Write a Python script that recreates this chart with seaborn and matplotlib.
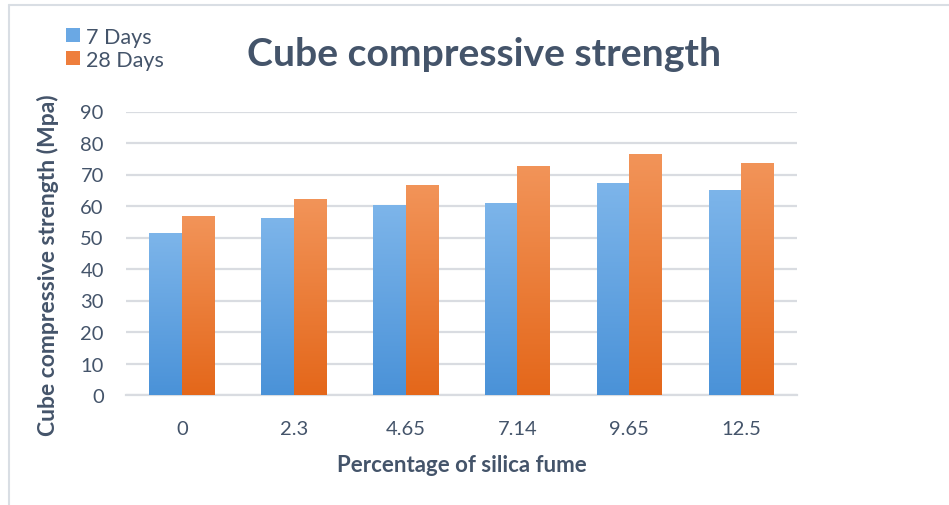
import numpy as np
import pandas as pd
import matplotlib
matplotlib.use("Agg")
import matplotlib.pyplot as plt
from matplotlib.colors import LinearSegmentedColormap
from matplotlib.patches import Patch
from matplotlib.lines import Line2D
import seaborn as sns

# Data
categories = ["0", "2.3", "4.65", "7.14", "9.65", "12.5"]
days_7 = [51.3, 56.1, 60.2, 61.0, 67.2, 65.2]
days_28 = [56.8, 62.2, 66.7, 72.7, 76.5, 73.7]
series = ["7 Days", "28 Days"]

TEXT = "#44546A"
GRID = "#D9DCE1"

sns.set_theme(style="white")
plt.rcParams["font.family"] = ["Lato", "DejaVu Sans"]

df = pd.DataFrame({
    "pct": categories * 2,
    "val": days_7 + days_28,
    "age": [series[0]] * len(categories) + [series[1]] * len(categories),
})

fig = plt.figure(figsize=(9.49, 5.06), dpi=100)
ax = fig.add_axes([126 / 949, 1 - 396 / 506, 671 / 949, (396 - 112.5) / 506])

palette = {"7 Days": "#63A3E2", "28 Days": "#EE7D3A"}
sns.barplot(data=df, x="pct", y="val", hue="age", order=categories,
            hue_order=series, palette=palette, width=0.58, gap=0,
            saturation=1, ax=ax, legend=False, zorder=3)

# Vertical gradient fill for each bar
grads = {
    "7 Days": LinearSegmentedColormap.from_list("b", ["#4A92D8", "#7DB5EA"]),
    "28 Days": LinearSegmentedColormap.from_list("o", ["#E4671A", "#F29459"]),
}
grad = np.linspace(0, 1, 256).reshape(-1, 1)
bars = [p for p in ax.patches if p.get_height() > 0]
n = len(categories)
for i, p in enumerate(bars):
    key = series[0] if i < n else series[1]
    x0, y0 = p.get_x(), p.get_y()
    w, h = p.get_width(), p.get_height()
    im = ax.imshow(grad, cmap=grads[key], aspect="auto", origin="lower",
                   extent=[x0, x0 + w, y0, y0 + h], zorder=3)
    im.set_clip_path(p)
    p.set_facecolor("none")
    p.set_edgecolor("none")

ax.set_xlim(-0.5, n - 0.5)
ax.set_ylim(0, 90)
ax.set_yticks(range(0, 91, 10))
ax.yaxis.grid(True, color=GRID, linewidth=1.6, zorder=0)
ax.set_axisbelow(True)
for s in ["top", "right", "left"]:
    ax.spines[s].set_visible(False)
ax.spines["bottom"].set_color(GRID)
ax.spines["bottom"].set_linewidth(1.6)
ax.tick_params(axis="both", length=0, labelsize=14.5, labelcolor=TEXT)
ax.tick_params(axis="y", pad=16)
ax.tick_params(axis="x", pad=18)

ax.set_xlabel("Percentage of silica fume", fontsize=16, fontweight="bold",
              color=TEXT, labelpad=12)
ax.set_ylabel("Cube compressive strength (Mpa)", fontsize=16.5, fontweight="bold",
              color=TEXT)
ax.yaxis.set_label_coords(59 / 949, 1 - 265 / 506, transform=fig.transFigure)

fig.text(484 / 949, 1 - 55 / 506, "Cube compressive strength", fontsize=28.2,
         fontweight="bold", color=TEXT, ha="center", va="center")

handles = [Patch(facecolor="#6AA8E4", edgecolor="none"),
           Patch(facecolor="#EE7E3C", edgecolor="none")]
leg = fig.legend(handles, series, loc="upper left",
                 bbox_to_anchor=(57 / 949, 1 - 19 / 506), frameon=False,
                 fontsize=15.5, handlelength=0.65, handleheight=0.65,
                 handletextpad=0.3, labelspacing=0.15, borderaxespad=0)
for t in leg.get_texts():
    t.set_color(TEXT)

# Chart area border
fig.add_artist(Line2D([9 / 949, 9 / 949], [0, 1 - 6 / 506],
                      transform=fig.transFigure, color="#D9DEE4", linewidth=1.5))
fig.add_artist(Line2D([9 / 949, 1], [1 - 6 / 506, 1 - 6 / 506],
                      transform=fig.transFigure, color="#D9DEE4", linewidth=1.5))

fig.savefig("out.png", dpi=100)
